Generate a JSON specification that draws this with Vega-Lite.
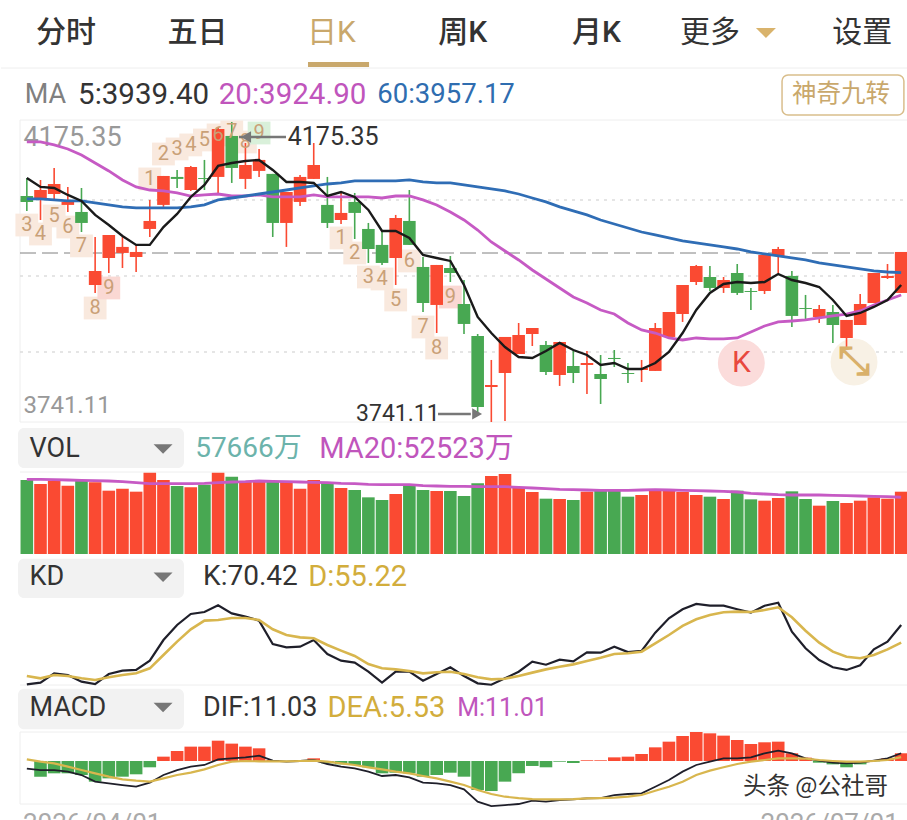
{"$schema":"https://vega.github.io/schema/vega-lite/v6.json","padding":0,"spacing":0,"bounds":"flush","background":"#ffffff",
"config":{"view":{"stroke":null},"axis":{"disable":true},"legend":{"disable":true},"text":{"font":"Roboto, Noto Sans CJK SC","align":"left","baseline":"middle"}},
"datasets":{"k":[
{"i":0,"dir":"down","o":4068.2,"c":4059.6,"h":4094.3,"l":4046.6,"ma5":4094.3,"ma20":4146.4,"ma60":4063.9,"vol":68487,"volma":69104,"kv":19.4,"dv":26.6,"dif":-11.0,"dea":2.4,"m":0},
{"i":1,"dir":"up","o":4063.9,"c":4076.9,"h":4091.4,"l":4033.5,"ma5":4081.3,"ma20":4146.4,"ma60":4063.9,"vol":64785,"volma":69104,"kv":20.9,"dv":24.6,"dif":-12.9,"dea":-1,"m":-22.4},
{"i":2,"dir":"up","o":4071.1,"c":4085.6,"h":4108.8,"l":4062.5,"ma5":4079.8,"ma20":4142.1,"ma60":4062.5,"vol":67870,"volma":68796,"kv":28.9,"dv":27.5,"dif":-12.9,"dea":-3.3,"m":-17.6},
{"i":3,"dir":"up","o":4055.3,"c":4059.6,"h":4081.3,"l":4045.1,"ma5":4069.7,"ma20":4136.3,"ma60":4061.1,"vol":63243,"volma":68487,"kv":27.5,"dv":26.6,"dif":-15.2,"dea":-8.1,"m":-17.6},
{"i":4,"dir":"down","o":4045.1,"c":4029.2,"h":4079.8,"l":4016.1,"ma5":4061.1,"ma20":4127.6,"ma60":4061.1,"vol":67562,"volma":68179,"kv":21.7,"dv":24.6,"dif":-20,"dea":-12.9,"m":-20},
{"i":5,"dir":"up","o":3939.4,"c":3959.7,"h":4008.9,"l":3927.9,"ma5":4040.8,"ma20":4116.0,"ma60":4058.2,"vol":66328,"volma":67870,"kv":19.7,"dv":23.2,"dif":-29.5,"dea":-17.6,"m":-29.5},
{"i":6,"dir":"up","o":3978.5,"c":4011.8,"h":4011.8,"l":3956.8,"ma5":4026.2,"ma20":4104.5,"ma60":4055.3,"vol":58615,"volma":67562,"kv":28.3,"dv":25.5,"dif":-31.9,"dea":-22.4,"m":-24.8},
{"i":7,"dir":"up","o":3985.8,"c":3994.5,"h":4008.9,"l":3964.0,"ma5":4010.3,"ma20":4091.4,"ma60":4052.4,"vol":60466,"volma":66945,"kv":31.2,"dv":27.5,"dif":-34.3,"dea":-26.2,"m":-22.4},
{"i":8,"dir":"up","o":3979.9,"c":3987.2,"h":3997.4,"l":3958.2,"ma5":3997.4,"ma20":4081.3,"ma60":4051.0,"vol":57690,"volma":66019,"kv":31.8,"dv":28.9,"dif":-36.7,"dea":-28.1,"m":-19},
{"i":9,"dir":"up","o":4020.5,"c":4032.1,"h":4062.5,"l":4008.9,"ma5":3997.4,"ma20":4076.9,"ma60":4051.0,"vol":75274,"volma":65094,"kv":39.8,"dv":33.2,"dif":-31,"dea":-29.5,"m":-9},
{"i":10,"dir":"up","o":4055.3,"c":4097.2,"h":4097.2,"l":4052.4,"ma5":4023.3,"ma20":4075.5,"ma60":4051.0,"vol":68487,"volma":65094,"kv":57.5,"dv":44.6,"dif":-20,"dea":-24.8,"m":6.2},
{"i":11,"dir":"down","o":4095.8,"c":4092.9,"h":4105.9,"l":4079.8,"ma5":4042.2,"ma20":4072.6,"ma60":4051.0,"vol":62934,"volma":65094,"kv":70.4,"dv":56.1,"dif":-12.9,"dea":-20,"m":14.3},
{"i":12,"dir":"up","o":4076.9,"c":4110.2,"h":4111.7,"l":4075.5,"ma5":4066.8,"ma20":4068.2,"ma60":4052.4,"vol":61700,"volma":65094,"kv":79.9,"dv":66.7,"dif":-8.1,"dea":-16.7,"m":20.5},
{"i":13,"dir":"down","o":4094.3,"c":4092.9,"h":4120.4,"l":4076.9,"ma5":4084.2,"ma20":4069.7,"ma60":4055.3,"vol":64168,"volma":65402,"kv":81.6,"dv":74.2,"dif":-5.7,"dea":-11.9,"m":20.5},
{"i":14,"dir":"up","o":4095.8,"c":4165.2,"h":4168.1,"l":4072.6,"ma5":4111.7,"ma20":4071.1,"ma60":4062.5,"vol":75274,"volma":66019,"kv":87.3,"dv":74.7,"dif":2.4,"dea":-5.7,"m":29},
{"i":15,"dir":"down","o":4155.1,"c":4108.8,"h":4175.35,"l":4087.1,"ma5":4116.0,"ma20":4068.2,"ma60":4065.3,"vol":71572,"volma":66636,"kv":80.4,"dv":76.4,"dif":3.8,"dea":-1,"m":24.8},
{"i":16,"dir":"up","o":4092.9,"c":4113.1,"h":4144.9,"l":4078.4,"ma5":4118.9,"ma20":4068.2,"ma60":4068.2,"vol":66945,"volma":66945,"kv":77.6,"dv":76.4,"dif":5.2,"dea":0,"m":20.5},
{"i":17,"dir":"up","o":4104.5,"c":4120.4,"h":4136.3,"l":4095.8,"ma5":4120.4,"ma20":4069.7,"ma60":4071.1,"vol":67870,"volma":67562,"kv":74.2,"dv":74.7,"dif":7.6,"dea":-0.5,"m":18.1},
{"i":18,"dir":"down","o":4100.2,"c":4029.2,"h":4100.2,"l":4008.9,"ma5":4105.9,"ma20":4066.8,"ma60":4074.0,"vol":66945,"volma":67253,"kv":54.1,"dv":66.7,"dif":0.5,"dea":-0.5,"m":1.4},
{"i":19,"dir":"up","o":4029.2,"c":4074.0,"h":4074.0,"l":3994.5,"ma5":4088.5,"ma20":4066.8,"ma60":4076.9,"vol":66945,"volma":66945,"kv":51.2,"dv":61.8,"dif":-1,"dea":-0.5,"m":-0.5},
{"i":20,"dir":"up","o":4059.6,"c":4095.8,"h":4098.7,"l":4053.9,"ma5":4088.5,"ma20":4066.8,"ma60":4079.8,"vol":60466,"volma":66636,"kv":51.8,"dv":59.8,"dif":0,"dea":0,"m":1.4},
{"i":21,"dir":"up","o":4092.9,"c":4113.1,"h":4144.9,"l":4092.9,"ma5":4087.1,"ma20":4069.7,"ma60":4082.7,"vol":68487,"volma":66328,"kv":57.5,"dv":59.0,"dif":1.4,"dea":0.5,"m":3.8},
{"i":22,"dir":"down","o":4055.3,"c":4029.2,"h":4095.8,"l":4021.9,"ma5":4068.2,"ma20":4066.8,"ma60":4085.6,"vol":66019,"volma":66019,"kv":45.5,"dv":53.2,"dif":-4.3,"dea":-1,"m":-3.3},
{"i":23,"dir":"up","o":4033.5,"c":4043.7,"h":4074.0,"l":4027.7,"ma5":4074.0,"ma20":4066.8,"ma60":4087.1,"vol":61083,"volma":65402,"kv":39.8,"dv":48.4,"dif":-8.1,"dea":-3.3,"m":-4.8},
{"i":24,"dir":"down","o":4059.6,"c":4043.7,"h":4072.6,"l":4006.0,"ma5":4066.8,"ma20":4066.8,"ma60":4090.0,"vol":59232,"volma":65094,"kv":38.1,"dv":43.8,"dif":-10.5,"dea":-5.7,"m":-5.7},
{"i":25,"dir":"down","o":4020.5,"c":3991.5,"h":4029.2,"l":3971.3,"ma5":4048.0,"ma20":4066.8,"ma60":4090.0,"vol":52445,"volma":64477,"kv":30.3,"dv":36.9,"dif":-15.2,"dea":-9,"m":-9},
{"i":26,"dir":"down","o":3997.4,"c":3971.3,"h":4016.1,"l":3968.4,"ma5":4017.6,"ma20":4065.3,"ma60":4090.0,"vol":49977,"volma":64168,"kv":20.9,"dv":33.2,"dif":-21.4,"dea":-11.9,"m":-17.6},
{"i":27,"dir":"up","o":3978.5,"c":4036.4,"h":4040.8,"l":3939.4,"ma5":4017.6,"ma20":4068.2,"ma60":4090.0,"vol":55530,"volma":64168,"kv":30.3,"dv":32.3,"dif":-20,"dea":-15.2,"m":-16.7},
{"i":28,"dir":"down","o":4032.1,"c":3997.4,"h":4076.9,"l":3997.4,"ma5":4007.5,"ma20":4068.2,"ma60":4091.4,"vol":64477,"volma":64168,"kv":30.3,"dv":30.9,"dif":-23.3,"dea":-17.6,"m":-17.6},
{"i":29,"dir":"down","o":3965.5,"c":3913.3,"h":3979.9,"l":3900.3,"ma5":3982.8,"ma20":4062.5,"ma60":4088.5,"vol":59232,"volma":63243,"kv":22.6,"dv":28.9,"dif":-31,"dea":-21.4,"m":-22.4},
{"i":30,"dir":"up","o":3910.5,"c":3968.4,"h":3968.4,"l":3869.9,"ma5":3978.5,"ma20":4055.3,"ma60":4087.1,"vol":58307,"volma":62934,"kv":28.3,"dv":29.8,"dif":-31.9,"dea":-24.8,"m":-20},
{"i":31,"dir":"down","o":3964.0,"c":3956.8,"h":3981.4,"l":3943.7,"ma5":3974.2,"ma20":4045.1,"ma60":4087.1,"vol":58307,"volma":62626,"kv":34.1,"dv":30.3,"dif":-34.3,"dea":-29.5,"m":-16.7},
{"i":32,"dir":"down","o":3911.9,"c":3883.0,"h":3946.6,"l":3868.5,"ma5":3939.4,"ma20":4033.5,"ma60":4084.2,"vol":53679,"volma":62626,"kv":26.6,"dv":28.3,"dif":-40.5,"dea":-34.3,"m":-22.4},
{"i":33,"dir":"down","o":3865.6,"c":3762.8,"h":3868.5,"l":3755.6,"ma5":3893.1,"ma20":4019.0,"ma60":4081.3,"vol":65402,"volma":62317,"kv":20.3,"dv":25.5,"dif":-58.1,"dea":-41.4,"m":-41.4},
{"i":34,"dir":"up","o":3791.8,"c":3794.7,"h":3830.9,"l":3741.11,"ma5":3869.9,"ma20":4001.7,"ma60":4078.4,"vol":72189,"volma":62317,"kv":19.1,"dv":23.7,"dif":-64.3,"dea":-47.1,"m":-42.9},
{"i":35,"dir":"up","o":3812.0,"c":3864.2,"h":3864.2,"l":3742.6,"ma5":3849.7,"ma20":3988.6,"ma60":4075.5,"vol":74040,"volma":62317,"kv":24.6,"dv":24.3,"dif":-62.9,"dea":-51,"m":-29.5},
{"i":36,"dir":"up","o":3839.5,"c":3867.0,"h":3884.4,"l":3839.5,"ma5":3835.2,"ma20":3975.6,"ma60":4071.1,"vol":61700,"volma":61700,"kv":30.3,"dv":26.6,"dif":-61.4,"dea":-52.9,"m":-17.6},
{"i":37,"dir":"up","o":3868.5,"c":3877.2,"h":3877.2,"l":3851.1,"ma5":3833.8,"ma20":3961.1,"ma60":4065.3,"vol":57381,"volma":61083,"kv":38.9,"dv":29.5,"dif":-56.7,"dea":-54.3,"m":-7.1},
{"i":38,"dir":"down","o":3852.6,"c":3813.5,"h":3858.4,"l":3809.1,"ma5":3843.9,"ma20":3948.1,"ma60":4059.6,"vol":51211,"volma":60466,"kv":36.3,"dv":32.3,"dif":-58.1,"dea":-54.8,"m":-9},
{"i":39,"dir":"up","o":3809.1,"c":3856.9,"h":3856.9,"l":3793.3,"ma5":3855.5,"ma20":3935.1,"ma60":4052.4,"vol":50903,"volma":59849,"kv":40.6,"dv":34.6,"dif":-55.7,"dea":-54.8,"m":-1},
{"i":40,"dir":"down","o":3822.2,"c":3812.0,"h":3843.9,"l":3797.5,"ma5":3845.3,"ma20":3922.0,"ma60":4046.6,"vol":49977,"volma":59541,"kv":39.2,"dv":36.6,"dif":-54.8,"dea":-54.3,"m":-2.9},
{"i":41,"dir":"up","o":3823.6,"c":3826.5,"h":3843.9,"l":3781.6,"ma5":3838.1,"ma20":3913.3,"ma60":4040.8,"vol":57690,"volma":59232,"kv":46.9,"dv":39.5,"dif":-53.3,"dea":-53.3,"m":1},
{"i":42,"dir":"down","o":3810.6,"c":3803.3,"h":3838.1,"l":3767.2,"ma5":3823.6,"ma20":3903.2,"ma60":4033.5,"vol":59232,"volma":58924,"kv":46.6,"dv":42.3,"dif":-52.9,"dea":-52.9,"m":1},
{"i":43,"dir":"down","o":3833.8,"c":3832.3,"h":3845.3,"l":3820.7,"ma5":3826.5,"ma20":3897.4,"ma60":4027.7,"vol":59849,"volma":58924,"kv":51.8,"dv":45.5,"dif":-48.6,"dea":-52.4,"m":5.2},
{"i":44,"dir":"down","o":3812.0,"c":3810.6,"h":3826.5,"l":3797.5,"ma5":3817.8,"ma20":3884.4,"ma60":4021.9,"vol":53062,"volma":58924,"kv":47.2,"dv":46.1,"dif":-47.1,"dea":-51,"m":6.2},
{"i":45,"dir":"up","o":3816.4,"c":3819.3,"h":3830.9,"l":3799.0,"ma5":3817.8,"ma20":3874.3,"ma60":4016.1,"vol":54605,"volma":59232,"kv":48.1,"dv":47.5,"dif":-46.2,"dea":-48.6,"m":10},
{"i":46,"dir":"up","o":3815.0,"c":3877.2,"h":3884.4,"l":3815.0,"ma5":3826.5,"ma20":3869.9,"ma60":4011.8,"vol":58615,"volma":59541,"kv":63.8,"dv":54.7,"dif":-36.7,"dea":-42.4,"m":19.5},
{"i":47,"dir":"up","o":3864.2,"c":3900.3,"h":3900.3,"l":3864.2,"ma5":3842.4,"ma20":3862.7,"ma60":4007.5,"vol":58615,"volma":59232,"kv":76.2,"dv":61.8,"dif":-27.1,"dea":-36.7,"m":27.6},
{"i":48,"dir":"up","o":3897.4,"c":3939.4,"h":3939.4,"l":3885.9,"ma5":3869.9,"ma20":3859.8,"ma60":4003.1,"vol":57381,"volma":58924,"kv":83.9,"dv":69.6,"dif":-15.2,"dea":-29.5,"m":35.7},
{"i":49,"dir":"up","o":3943.7,"c":3966.9,"h":3968.4,"l":3939.4,"ma5":3903.2,"ma20":3862.7,"ma60":4000.2,"vol":54605,"volma":58615,"kv":88.5,"dv":75.3,"dif":-5.7,"dea":-20,"m":41.4},
{"i":50,"dir":"down","o":3951.0,"c":3935.1,"h":3966.9,"l":3930.7,"ma5":3927.9,"ma20":3861.3,"ma60":3997.4,"vol":53062,"volma":58307,"kv":87.0,"dv":79.0,"dif":-1,"dea":-13.8,"m":39.5},
{"i":51,"dir":"up","o":3935.1,"c":3946.6,"h":3951.0,"l":3927.9,"ma5":3940.9,"ma20":3861.3,"ma60":3994.5,"vol":50903,"volma":57998,"kv":87.0,"dv":81.3,"dif":3.8,"dea":-9,"m":36.2},
{"i":52,"dir":"down","o":3956.8,"c":3927.9,"h":3969.8,"l":3925.0,"ma5":3943.7,"ma20":3862.7,"ma60":3991.5,"vol":58615,"volma":57381,"kv":83.9,"dv":81.9,"dif":3.8,"dea":-4.3,"m":30},
{"i":53,"dir":"down","o":3930.7,"c":3929.3,"h":3935.1,"l":3903.2,"ma5":3942.3,"ma20":3871.4,"ma60":3987.2,"vol":50594,"volma":56147,"kv":81.0,"dv":81.6,"dif":5.2,"dea":-1,"m":24.3},
{"i":54,"dir":"up","o":3930.7,"c":3982.8,"h":3985.7,"l":3926.4,"ma5":3943.7,"ma20":3880.1,"ma60":3984.3,"vol":49360,"volma":55530,"kv":87.0,"dv":83.3,"dif":11,"dea":1.4,"m":26.7},
{"i":55,"dir":"up","o":3981.4,"c":3991.5,"h":3994.5,"l":3956.8,"ma5":3955.3,"ma20":3885.9,"ma60":3981.4,"vol":51828,"volma":54913,"kv":89.6,"dv":85.6,"dif":14.8,"dea":3.8,"m":27.6},
{"i":56,"dir":"down","o":3952.5,"c":3894.6,"h":3959.7,"l":3878.6,"ma5":3946.6,"ma20":3887.3,"ma60":3978.5,"vol":57998,"volma":54605,"kv":64.7,"dv":77.0,"dif":11,"dea":3.8,"m":11},
{"i":57,"dir":"down","o":3906.1,"c":3904.7,"h":3925.0,"l":3890.2,"ma5":3942.3,"ma20":3888.8,"ma60":3975.6,"vol":50903,"volma":54605,"kv":50.4,"dv":65.5,"dif":3.8,"dea":3.3,"m":4.8},
{"i":58,"dir":"up","o":3893.1,"c":3904.7,"h":3910.5,"l":3884.4,"ma5":3936.5,"ma20":3891.7,"ma60":3971.3,"vol":44733,"volma":54605,"kv":40.3,"dv":55.2,"dif":0.5,"dea":1.4,"m":-2.4},
{"i":59,"dir":"down","o":3900.3,"c":3881.5,"h":3910.5,"l":3855.5,"ma5":3917.7,"ma20":3894.6,"ma60":3968.4,"vol":49052,"volma":54296,"kv":34.1,"dv":47.5,"dif":-2.4,"dea":0,"m":-4.8},
{"i":60,"dir":"up","o":3862.7,"c":3888.8,"h":3888.8,"l":3849.7,"ma5":3894.6,"ma20":3897.4,"ma60":3965.5,"vol":47201,"volma":53988,"kv":31.8,"dv":43.2,"dif":-3.3,"dea":-1,"m":-9},
{"i":61,"dir":"up","o":3881.5,"c":3911.9,"h":3926.4,"l":3881.5,"ma5":3898.9,"ma20":3901.8,"ma60":3962.6,"vol":49360,"volma":53679,"kv":35.8,"dv":41.8,"dif":-2.4,"dea":-1,"m":-4.8},
{"i":62,"dir":"up","o":3913.3,"c":3956.8,"h":3956.8,"l":3913.3,"ma5":3907.6,"ma20":3910.5,"ma60":3959.7,"vol":52445,"volma":53371,"kv":49.5,"dv":44.6,"dif":0.5,"dea":0,"m":-0.5},
{"i":63,"dir":"up","o":3949.5,"c":3952.5,"h":3969.8,"l":3948.1,"ma5":3917.7,"ma20":3917.7,"ma60":3958.2,"vol":51211,"volma":53062,"kv":56.1,"dv":49.5,"dif":3.8,"dea":1.4,"m":3.8},
{"i":64,"dir":"up","o":3927.9,"c":3987.2,"h":3987.2,"l":3927.9,"ma5":3939.4,"ma20":3924.9,"ma60":3957.17,"vol":57666,"volma":52523,"kv":70.42,"dv":55.22,"dif":11.03,"dea":5.53,"m":11.01}
],
"td":[
{"i":0,"n":"3","p":4026.2,"kind":"n"},{"i":1,"n":"4","p":4013.2,"kind":"n"},{"i":2,"n":"5","p":4039.3,"kind":"n"},{"i":3,"n":"6","p":4023.3,"kind":"n"},{"i":4,"n":"7","p":3996.0,"kind":"n"},{"i":5,"n":"8","p":3906.1,"kind":"n"},{"i":6,"n":"9","p":3935.1,"kind":"r"},
{"i":9,"n":"1","p":4092.9,"kind":"n"},{"i":10,"n":"2","p":4129.0,"kind":"n"},{"i":11,"n":"3","p":4136.3,"kind":"n"},{"i":12,"n":"4","p":4142.1,"kind":"n"},{"i":13,"n":"5","p":4149.3,"kind":"n"},{"i":14,"n":"6","p":4156.6,"kind":"n"},{"i":15,"n":"7","p":4160.9,"kind":"n"},{"i":16,"n":"8","p":4146.4,"kind":"n"},{"i":17,"n":"9","p":4159.4,"kind":"g"},
{"i":23,"n":"1","p":4007.5,"kind":"n"},{"i":24,"n":"2","p":3985.7,"kind":"n"},{"i":25,"n":"3","p":3951.0,"kind":"n"},{"i":26,"n":"4","p":3948.1,"kind":"n"},{"i":27,"n":"5","p":3917.7,"kind":"n"},{"i":28,"n":"6","p":3974.2,"kind":"n"},{"i":29,"n":"7","p":3878.6,"kind":"n"},{"i":30,"n":"8","p":3848.2,"kind":"n"},{"i":31,"n":"9","p":3922.0,"kind":"r"}
],
"grid":[{"p":4062.5},{"p":3952.5},{"p":3842.4}],"one":[{"a":1}]},
"vconcat":[
{"data":{"name":"one"},"width":907,"height":68,"encoding":{"x":{"datum":0,"type":"quantitative","scale":{"domain":[-1.891,64.5],"nice":false,"zero":false,"padding":0}},"y":{"datum":0.515,"type":"quantitative","scale":{"domain":[0,1],"nice":false,"zero":false}}},
"layer":[
{"mark":{"type":"rule","color":"#eeeeee","strokeWidth":1},"encoding":{"x":{"datum":-1.891,"type":"quantitative"},"x2":{"datum":64.5},"y":{"datum":0,"type":"quantitative"}}},
{"mark":{"type":"rule","color":"#C9A86C","strokeWidth":5},"encoding":{"x":{"datum":20.58,"type":"quantitative"},"x2":{"datum":25.05},"y":{"datum":0.05,"type":"quantitative"}}},
{"mark":{"type":"text","fontSize":30,"color":"#333333","fontWeight":500,"align":"center"},"encoding":{"x":{"datum":2.87,"type":"quantitative"},"text":{"value":"分时"}}},
{"mark":{"type":"text","fontSize":30,"color":"#333333","fontWeight":500,"align":"center"},"encoding":{"x":{"datum":12.5,"type":"quantitative"},"text":{"value":"五日"}}},
{"mark":{"type":"text","fontSize":30,"color":"#C9A86C","fontWeight":400,"align":"center"},"encoding":{"x":{"datum":22.3,"type":"quantitative"},"text":{"value":"日K"}}},
{"mark":{"type":"text","fontSize":30,"color":"#333333","fontWeight":500,"align":"center"},"encoding":{"x":{"datum":31.9,"type":"quantitative"},"text":{"value":"周K"}}},
{"mark":{"type":"text","fontSize":30,"color":"#333333","fontWeight":500,"align":"center"},"encoding":{"x":{"datum":41.7,"type":"quantitative"},"text":{"value":"月K"}}},
{"mark":{"type":"text","fontSize":30,"color":"#333333","fontWeight":400,"align":"center"},"encoding":{"x":{"datum":50.0,"type":"quantitative"},"text":{"value":"更多"}}},
{"mark":{"type":"point","shape":"M-1,-0.5L1,-0.5L0,0.5Z","filled":true,"color":"#D9B36C","size":400,"opacity":1},"encoding":{"x":{"datum":54.1,"type":"quantitative"}}},
{"mark":{"type":"text","fontSize":30,"color":"#333333","fontWeight":400,"align":"center"},"encoding":{"x":{"datum":61.15,"type":"quantitative"},"text":{"value":"设置"}}}
]},
{"data":{"name":"one"},"width":907,"height":52,"encoding":{"x":{"datum":0,"type":"quantitative","scale":{"domain":[-1.891,64.5],"nice":false,"zero":false,"padding":0}},"y":{"datum":0.48,"type":"quantitative","scale":{"domain":[0,1],"nice":false,"zero":false}}},
"layer":[
{"mark":{"type":"text","fontSize":27,"color":"#808080"},"encoding":{"x":{"datum":-0.15,"type":"quantitative"},"text":{"value":"MA"}}},
{"mark":{"type":"text","fontSize":29.5,"color":"#333333"},"encoding":{"x":{"datum":3.75,"type":"quantitative"},"text":{"value":"5:3939.40"}}},
{"mark":{"type":"text","fontSize":29.5,"color":"#C055BC"},"encoding":{"x":{"datum":14.05,"type":"quantitative"},"text":{"value":"20:3924.90"}}},
{"mark":{"type":"text","fontSize":27.5,"color":"#2F6DB0"},"encoding":{"x":{"datum":25.65,"type":"quantitative"},"text":{"value":"60:3957.17"}}},
{"mark":{"type":"rect","fill":"#ffffff","stroke":"#D9BE8C","strokeWidth":1.5,"cornerRadius":6},"encoding":{"x":{"datum":55.28,"type":"quantitative"},"x2":{"datum":64.2},"y":{"datum":0.865,"type":"quantitative"},"y2":{"datum":0.096}}},
{"mark":{"type":"text","fontSize":24.5,"color":"#C9A86C","align":"center"},"encoding":{"x":{"datum":59.6,"type":"quantitative"},"text":{"value":"神奇九转"}}}
]},
{"data":{"name":"one"},"width":907,"height":302,
"layer":[
{"mark":{"type":"rule","color":"#eeeeee","strokeWidth":1},"encoding":{"x":{"datum":-0.5,"type":"quantitative","scale":{"domain":[-1.891,64.5],"nice":false,"zero":false,"padding":0}},"y":{"datum":3741.11,"type":"quantitative","scale":{"domain":[3741.11,4178.2],"nice":false,"zero":false}},"y2":{"datum":4178.2}}},
{"mark":{"type":"rule","color":"#eeeeee","strokeWidth":1},"encoding":{"x":{"datum":-0.5,"type":"quantitative"},"x2":{"datum":64.5},"y":{"datum":4178.2,"type":"quantitative"}}},
{"mark":{"type":"rule","color":"#eeeeee","strokeWidth":1},"encoding":{"x":{"datum":-0.5,"type":"quantitative"},"x2":{"datum":64.5},"y":{"datum":3741.11,"type":"quantitative"}}},
{"data":{"name":"grid"},"mark":{"type":"rule","color":"#dddddd","strokeWidth":1.5,"strokeDash":[3,5]},"encoding":{"x":{"datum":-0.5,"type":"quantitative"},"x2":{"datum":64.5},"y":{"field":"p","type":"quantitative"}}},
{"mark":{"type":"rule","color":"#808080","strokeWidth":1,"strokeDash":[16,6]},"encoding":{"x":{"datum":-0.5,"type":"quantitative"},"x2":{"datum":64.5},"y":{"datum":3985.7,"type":"quantitative"}}},
{"mark":{"type":"text","fontSize":27,"color":"#999999"},"encoding":{"x":{"datum":-0.25,"type":"quantitative"},"y":{"datum":4152.2,"type":"quantitative"},"text":{"value":"4175.35"}}},
{"mark":{"type":"text","fontSize":24,"color":"#999999"},"encoding":{"x":{"datum":-0.25,"type":"quantitative"},"y":{"datum":3764.3,"type":"quantitative"},"text":{"value":"3741.11"}}},
{"data":{"name":"td"},"mark":{"type":"point","shape":"square","filled":true,"size":520,"opacity":1},"encoding":{"x":{"field":"i","type":"quantitative"},"y":{"field":"p","type":"quantitative"},"color":{"field":"kind","type":"nominal","scale":{"domain":["up","down","n","r","g"],"range":["#FA4A32","#48A852","#F9E9DE","#FAD8D3","#D9F0DA"]}}}},
{"mark":{"type":"point","shape":"circle","filled":true,"size":2200,"opacity":1,"color":"#FBDCDB"},"encoding":{"x":{"datum":52.3,"type":"quantitative"},"y":{"datum":3826.5,"type":"quantitative"}}},
{"mark":{"type":"point","shape":"circle","filled":true,"size":2200,"opacity":1,"color":"#F8F1E5"},"encoding":{"x":{"datum":60.55,"type":"quantitative"},"y":{"datum":3827.9,"type":"quantitative"}}},
{"data":{"name":"k"},"mark":{"type":"rule","strokeWidth":1.6},"encoding":{"x":{"field":"i","type":"quantitative"},"y":{"field":"l","type":"quantitative"},"y2":{"field":"h"},"color":{"field":"dir","type":"nominal"}}},
{"data":{"name":"k"},"mark":{"type":"bar","size":12.6,"orient":"vertical"},"encoding":{"x":{"field":"i","type":"quantitative"},"y":{"field":"o","type":"quantitative"},"y2":{"field":"c"},"color":{"field":"dir","type":"nominal"}}},
{"data":{"name":"k"},"mark":{"type":"line","color":"#C65AC4","strokeWidth":2.8},"encoding":{"x":{"field":"i","type":"quantitative"},"y":{"field":"ma20","type":"quantitative"}}},
{"data":{"name":"k"},"mark":{"type":"line","color":"#2F6DB5","strokeWidth":2.8},"encoding":{"x":{"field":"i","type":"quantitative"},"y":{"field":"ma60","type":"quantitative"}}},
{"data":{"name":"k"},"mark":{"type":"line","color":"#1A1A1A","strokeWidth":2.4},"encoding":{"x":{"field":"i","type":"quantitative"},"y":{"field":"ma5","type":"quantitative"}}},
{"data":{"name":"td"},"mark":{"type":"text","fontSize":20,"align":"center","color":"#C9A077"},"encoding":{"x":{"field":"i","type":"quantitative"},"y":{"field":"p","type":"quantitative"},"text":{"field":"n"}}},
{"mark":{"type":"text","fontSize":30,"align":"center","color":"#E8483E","font":"Roboto"},"encoding":{"x":{"datum":52.3,"type":"quantitative"},"y":{"datum":3826.5,"type":"quantitative"},"text":{"value":"K"}}},
{"mark":{"type":"text","fontSize":40,"align":"center","fontWeight":"bold","color":"#D9B06A","font":"DejaVu Sans"},"encoding":{"x":{"datum":60.55,"type":"quantitative"},"y":{"datum":3827.9,"type":"quantitative"},"text":{"value":"⤡"}}},
{"mark":{"type":"rule","color":"#777777","strokeWidth":2.5},"encoding":{"x":{"datum":15.53,"type":"quantitative"},"x2":{"datum":18.97},"y":{"datum":4153.6,"type":"quantitative"}}},
{"mark":{"type":"point","shape":"triangle-left","filled":true,"opacity":1,"size":130,"color":"#777777"},"encoding":{"x":{"datum":16.05,"type":"quantitative"},"y":{"datum":4153.6,"type":"quantitative"}}},
{"mark":{"type":"text","fontSize":25,"color":"#333333"},"encoding":{"x":{"datum":19.1,"type":"quantitative"},"y":{"datum":4153.6,"type":"quantitative"},"text":{"value":"4175.35"}}},
{"mark":{"type":"rule","color":"#777777","strokeWidth":2.5},"encoding":{"x":{"datum":30.1,"type":"quantitative"},"x2":{"datum":32.5},"y":{"datum":3752.8,"type":"quantitative"}}},
{"mark":{"type":"point","shape":"triangle-right","filled":true,"opacity":1,"size":130,"color":"#777777"},"encoding":{"x":{"datum":32.96,"type":"quantitative"},"y":{"datum":3752.8,"type":"quantitative"}}},
{"mark":{"type":"text","fontSize":23,"color":"#333333"},"encoding":{"x":{"datum":24.1,"type":"quantitative"},"y":{"datum":3752.8,"type":"quantitative"},"text":{"value":"3741.11"}}}
]},
{"data":{"name":"one"},"width":907,"height":50,"encoding":{"x":{"datum":0,"type":"quantitative","scale":{"domain":[-1.891,64.5],"nice":false,"zero":false,"padding":0}},"y":{"datum":0.46,"type":"quantitative","scale":{"domain":[0,1],"nice":false,"zero":false}}},
"layer":[
{"mark":{"type":"rect","fill":"#F2F2F2","cornerRadius":6},"encoding":{"x":{"datum":-0.646,"type":"quantitative"},"x2":{"datum":11.5},"y":{"datum":0.88,"type":"quantitative"},"y2":{"datum":0.08}}},
{"mark":{"type":"text","fontSize":27,"color":"#333333"},"encoding":{"x":{"datum":0.2,"type":"quantitative"},"text":{"value":"VOL"}}},
{"mark":{"type":"point","shape":"M-1,-0.5L1,-0.5L0,0.5Z","filled":true,"opacity":1,"size":361,"color":"#777777"},"encoding":{"x":{"datum":9.97,"type":"quantitative"}}},
{"mark":{"type":"text","fontSize":28,"color":"#6CB3AB"},"encoding":{"x":{"datum":12.32,"type":"quantitative"},"text":{"value":"57666万"}}},
{"mark":{"type":"text","fontSize":29,"color":"#C055BC"},"encoding":{"x":{"datum":21.4,"type":"quantitative"},"text":{"value":"MA20:52523万"}}}
]},
{"data":{"name":"one"},"width":907,"height":82,
"layer":[
{"mark":{"type":"rule","color":"#eeeeee","strokeWidth":1},"encoding":{"x":{"datum":-0.5,"type":"quantitative","scale":{"domain":[-1.891,64.5],"nice":false,"zero":false,"padding":0}},"x2":{"datum":64.5},"y":{"datum":75900,"type":"quantitative","scale":{"domain":[0,75900],"nice":false}}}},
{"data":{"name":"k"},"mark":{"type":"bar","size":12.6,"orient":"vertical"},"encoding":{"x":{"field":"i","type":"quantitative"},"y":{"field":"vol","type":"quantitative","stack":null},"color":{"field":"dir","type":"nominal"}}},
{"data":{"name":"k"},"mark":{"type":"line","color":"#C65AC4","strokeWidth":2.8},"encoding":{"x":{"field":"i","type":"quantitative"},"y":{"field":"volma","type":"quantitative"}}}
]},
{"data":{"name":"one"},"width":907,"height":44,"encoding":{"x":{"datum":0,"type":"quantitative","scale":{"domain":[-1.891,64.5],"nice":false,"zero":false,"padding":0}},"y":{"datum":0.47,"type":"quantitative","scale":{"domain":[0,1],"nice":false,"zero":false}}},
"layer":[
{"mark":{"type":"rect","fill":"#F2F2F2","cornerRadius":6},"encoding":{"x":{"datum":-0.646,"type":"quantitative"},"x2":{"datum":11.5},"y":{"datum":0.89,"type":"quantitative"},"y2":{"datum":0.0}}},
{"mark":{"type":"text","fontSize":27,"color":"#333333"},"encoding":{"x":{"datum":0.2,"type":"quantitative"},"text":{"value":"KD"}}},
{"mark":{"type":"point","shape":"M-1,-0.5L1,-0.5L0,0.5Z","filled":true,"opacity":1,"size":361,"color":"#777777"},"encoding":{"x":{"datum":9.97,"type":"quantitative"}}},
{"mark":{"type":"text","fontSize":28,"color":"#333333"},"encoding":{"x":{"datum":12.9,"type":"quantitative"},"text":{"value":"K:70.42"}}},
{"mark":{"type":"text","fontSize":29,"color":"#D2AD3C"},"encoding":{"x":{"datum":20.6,"type":"quantitative"},"text":{"value":"D:55.22"}}}
]},
{"data":{"name":"one"},"width":907,"height":87,
"layer":[
{"mark":{"type":"rule","color":"#eeeeee","strokeWidth":1},"encoding":{"x":{"datum":-0.5,"type":"quantitative","scale":{"domain":[-1.891,64.5],"nice":false,"zero":false,"padding":0}},"x2":{"datum":64.5},"y":{"datum":18.87,"type":"quantitative","scale":{"domain":[18.87,93.6],"nice":false,"zero":false}}}},
{"data":{"name":"k"},"mark":{"type":"line","color":"#1F1F2A","strokeWidth":2.2},"encoding":{"x":{"field":"i","type":"quantitative"},"y":{"field":"kv","type":"quantitative"}}},
{"data":{"name":"k"},"mark":{"type":"line","color":"#D8B64E","strokeWidth":2.6},"encoding":{"x":{"field":"i","type":"quantitative"},"y":{"field":"dv","type":"quantitative"}}}
]},
{"data":{"name":"one"},"width":907,"height":47,"encoding":{"x":{"datum":0,"type":"quantitative","scale":{"domain":[-1.891,64.5],"nice":false,"zero":false,"padding":0}},"y":{"datum":0.52,"type":"quantitative","scale":{"domain":[0,1],"nice":false,"zero":false}}},
"layer":[
{"mark":{"type":"rect","fill":"#F2F2F2","cornerRadius":6},"encoding":{"x":{"datum":-0.646,"type":"quantitative"},"x2":{"datum":11.5},"y":{"datum":0.92,"type":"quantitative"},"y2":{"datum":0.06}}},
{"mark":{"type":"text","fontSize":27,"color":"#333333"},"encoding":{"x":{"datum":0.2,"type":"quantitative"},"text":{"value":"MACD"}}},
{"mark":{"type":"point","shape":"M-1,-0.5L1,-0.5L0,0.5Z","filled":true,"opacity":1,"size":361,"color":"#777777"},"encoding":{"x":{"datum":9.97,"type":"quantitative"}}},
{"mark":{"type":"text","fontSize":27,"color":"#333333"},"encoding":{"x":{"datum":12.9,"type":"quantitative"},"text":{"value":"DIF:11.03"}}},
{"mark":{"type":"text","fontSize":29,"color":"#D2AD3C"},"encoding":{"x":{"datum":22.0,"type":"quantitative"},"text":{"value":"DEA:5.53"}}},
{"mark":{"type":"text","fontSize":25,"color":"#C055BC"},"encoding":{"x":{"datum":31.5,"type":"quantitative"},"text":{"value":"M:11.01"}}}
]},
{"data":{"name":"one"},"width":907,"height":72,
"layer":[
{"mark":{"type":"rule","color":"#eeeeee","strokeWidth":1},"encoding":{"x":{"datum":-0.5,"type":"quantitative","scale":{"domain":[-1.891,64.5],"nice":false,"zero":false,"padding":0}},"x2":{"datum":64.5},"y":{"datum":41.4,"type":"quantitative","scale":{"domain":[-61.4,41.4],"nice":false,"zero":false}}}},
{"mark":{"type":"rule","color":"#eeeeee","strokeWidth":1},"encoding":{"x":{"datum":-0.5,"type":"quantitative"},"x2":{"datum":64.5},"y":{"datum":-61.4,"type":"quantitative"}}},
{"mark":{"type":"rule","color":"#eeeeee","strokeWidth":1},"encoding":{"x":{"datum":-0.5,"type":"quantitative"},"y":{"datum":-61.4,"type":"quantitative"},"y2":{"datum":41.4}}},
{"data":{"name":"k"},"mark":{"type":"bar","size":12.6,"orient":"vertical"},"encoding":{"x":{"field":"i","type":"quantitative"},"y":{"field":"m","type":"quantitative","stack":null},"y2":{"datum":0},"color":{"condition":{"test":"datum.m>=0","value":"#FA4A32"},"value":"#48A852"}}},
{"data":{"name":"k"},"mark":{"type":"line","color":"#1F1F2A","strokeWidth":1.8},"encoding":{"x":{"field":"i","type":"quantitative"},"y":{"field":"dif","type":"quantitative"}}},
{"data":{"name":"k"},"mark":{"type":"line","color":"#D8B64E","strokeWidth":2.2},"encoding":{"x":{"field":"i","type":"quantitative"},"y":{"field":"dea","type":"quantitative"}}},
{"mark":{"type":"text","fontSize":23.5,"color":"#ffffff","stroke":"#ffffff","strokeWidth":3,"font":"Noto Sans CJK SC"},"encoding":{"x":{"datum":52.43,"type":"quantitative"},"y":{"datum":-37.1,"type":"quantitative"},"text":{"value":"头条 @公社哥"}}},
{"mark":{"type":"text","fontSize":23.5,"color":"#333333","font":"Noto Sans CJK SC"},"encoding":{"x":{"datum":52.43,"type":"quantitative"},"y":{"datum":-37.1,"type":"quantitative"},"text":{"value":"头条 @公社哥"}}}
]},
{"data":{"name":"one"},"width":907,"height":16,"encoding":{"x":{"datum":0,"type":"quantitative","scale":{"domain":[-1.891,64.5],"nice":false,"zero":false,"padding":0}},"y":{"datum":-0.25,"type":"quantitative","scale":{"domain":[0,1],"nice":false,"zero":false}}},
"layer":[
{"mark":{"type":"text","fontSize":26,"color":"#AAAAAA","clip":true},"encoding":{"x":{"datum":-0.28,"type":"quantitative"},"text":{"value":"2026/04/01"}}},
{"mark":{"type":"text","fontSize":26,"color":"#AAAAAA","clip":true},"encoding":{"x":{"datum":53.7,"type":"quantitative"},"text":{"value":"2026/07/01"}}}
]}
]}
